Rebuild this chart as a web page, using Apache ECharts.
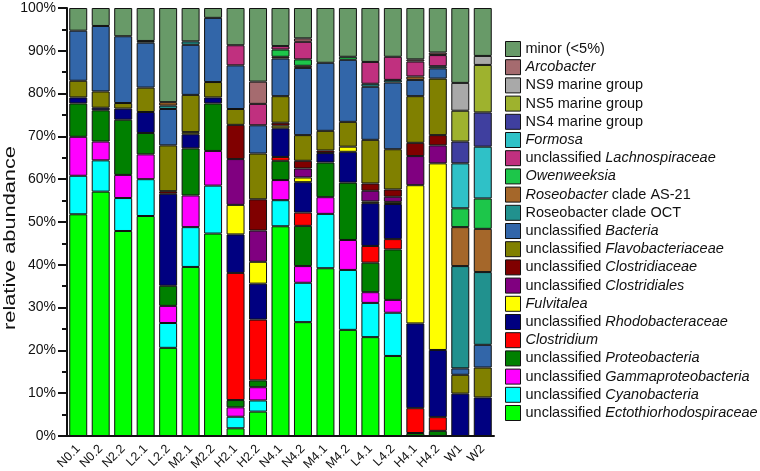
<!DOCTYPE html>
<html>
<head>
<meta charset="utf-8">
<script src="https://cdn.jsdelivr.net/npm/echarts@6/dist/echarts.min.js"></script>
<style>html,body{margin:0;padding:0;background:#fff;}#c{width:760px;height:471px;}</style>
</head>
<body>
<div id="c"></div>
<script>
const categories = ['N0.1','N0.2','N2.2','L2.1','L2.2','M2.1','M2.2','H2.1','H2.2','N4.1','N4.2','M4.1','M4.2','L4.1','L4.2','H4.1','H4.2','W1','W2'];
const yTicks = [0,10,20,30,40,50,60,70,80,90,100];

// series values (% relative abundance), bottom to top of stack
const ecto      = [51.8,57.1,47.9,51.4,20.6,39.5,47.3,1.8,5.7,49.0,26.6,39.2,24.8,23.1,18.7,0,0,0,0];
const cyano     = [9.0,7.3,7.7,8.6,5.8,9.3,11.2,2.7,2.6,6.1,9.2,12.7,14.0,8.0,10.1,0,0,0,0];
const gamma     = [9.1,4.4,5.4,5.8,4.0,7.4,8.1,2.2,3.1,4.7,3.9,3.9,7.0,2.5,3.0,0,0,0,0];
const proteo    = [7.8,7.3,12.9,5.0,4.7,11.0,11.1,1.7,1.6,4.5,9.4,8.1,13.4,6.9,11.8,0.7,1.2,0,0];
const clostrid  = [0,0,0,0,0,0,0,29.7,14.2,0.9,3.1,0,0,3.9,2.4,5.8,3.2,0,0];
const rhodo     = [1.4,0.6,2.6,4.9,21.5,3.3,1.4,9.0,8.4,6.7,7.1,2.2,7.2,10.0,8.2,19.8,15.7,9.9,9.0];
const fulv      = [0,0,0,0,0,0.5,0,6.9,5.1,0.6,1.1,0,1.2,0.4,0.5,32.3,43.6,0,0];
const cles      = [0,0,0,0,0,0,0,10.7,7.3,0,2.1,0,0,2.5,1.2,6.8,4.2,0,0];
const ccae      = [0,0,0,0,0.6,0,0,8.0,7.3,0.7,1.8,0.6,0,1.7,1.7,3.1,2.4,0,0];
const flavo     = [3.9,3.8,1.3,5.7,10.7,8.7,3.6,3.7,10.7,6.2,6.0,4.6,5.8,10.2,9.4,10.9,13.2,4.4,7.0];
const bact      = [11.7,15.3,15.6,10.5,8.5,11.7,15.0,10.2,6.6,8.8,15.7,15.9,14.5,12.4,15.6,3.8,2.4,1.5,5.3];
const oct       = [0,0,0,0.4,0.8,0.8,0,0,0,0,0,0,0,0.7,0.6,0,0.5,23.9,17.0];
const as21      = [0,0,0,0,0.8,0,0,0,0,0.4,0.5,0,0,0,0,0.8,0,9.1,10.1];
const owen      = [0,0,0,0,0,0,0,0,0,1.7,1.5,0,0.7,0,0,0,0,4.4,7.1];
const lachno    = [0,0,0,0,0,0,0,4.7,5.0,0.8,4.1,0,0,5.1,5.4,3.5,2.6,0,0];
const formosa   = [0,0,0,0,0,0,0,0,0,0,0,0,0,0,0,0,0,10.5,12.1];
const ns4       = [0,0,0,0,0,0,0,0,0,0,0,0,0,0,0,0,0,5.1,8.0];
const ns5       = [0,0,0,0,0,0,0,0,0,0,0,0,0,0,0,0,0,7.2,11.1];
const ns9       = [0,0,0,0,0,0,0,0,0,0,0,0,0,0,0,0,0,6.5,2.1];
const arco      = [0,0,0,0,0,0,0,0,5.2,0,0.8,0,0,0,0,0.5,0.6,0,0];
const minor     = [5.3,4.2,6.6,7.7,22.0,7.8,2.3,8.7,17.2,8.9,7.1,12.8,11.4,12.6,11.4,12.0,10.4,17.5,11.2];

const seriesDefs = [
  ['unclassified Ectothiorhodospiraceae', ecto, '#00ff00', 'unclassified {i|Ectothiorhodospiraceae}'],
  ['unclassified Cyanobacteria', cyano, '#00ffff', 'unclassified {i|Cyanobacteria}'],
  ['unclassified Gammaproteobacteria', gamma, '#ff00ff', 'unclassified {i|Gammaproteobacteria}'],
  ['unclassified Proteobacteria', proteo, '#008000', 'unclassified {i|Proteobacteria}'],
  ['Clostridium', clostrid, '#ff0000', '{i|Clostridium}'],
  ['unclassified Rhodobacteraceae', rhodo, '#000080', 'unclassified {i|Rhodobacteraceae}'],
  ['Fulvitalea', fulv, '#ffff00', '{i|Fulvitalea}'],
  ['unclassified Clostridiales', cles, '#800080', 'unclassified {i|Clostridiales}'],
  ['unclassified Clostridiaceae', ccae, '#800000', 'unclassified {i|Clostridiaceae}'],
  ['unclassified Flavobacteriaceae', flavo, '#808000', 'unclassified {i|Flavobacteriaceae}'],
  ['unclassified Bacteria', bact, '#3266a9', 'unclassified {i|Bacteria}'],
  ['Roseobacter clade OCT', oct, '#21918e', 'Roseobacter clade OCT'],
  ['Roseobacter clade AS-21', as21, '#a5672a', '{i|Roseobacter} clade AS-21'],
  ['Owenweeksia', owen, '#1dc64a', '{i|Owenweeksia}'],
  ['unclassified Lachnospiraceae', lachno, '#c0307f', 'unclassified {i|Lachnospiraceae}'],
  ['Formosa', formosa, '#2fc1c7', '{i|Formosa}'],
  ['NS4 marine group', ns4, '#3f3f9f', 'NS4 marine group'],
  ['NS5 marine group', ns5, '#9eb22e', 'NS5 marine group'],
  ['NS9 marine group', ns9, '#a9a9a9', 'NS9 marine group'],
  ['Arcobacter', arco, '#a56b6f', '{i|Arcobacter}'],
  ['minor (<5%)', minor, '#689a68', 'minor (<5%)']
];

const FONT = 'Liberation Sans, Arial, sans-serif';
const labelMap = {};
seriesDefs.forEach(d => { labelMap[d[0]] = d[3]; });

const chart = echarts.init(document.getElementById('c'), null, {renderer: 'canvas'});
chart.setOption({
  animation: false,
  backgroundColor: '#ffffff',
  textStyle: {fontFamily: FONT},
  grid: {left: 67, right: 266, top: 8, bottom: 35, containLabel: false, outerBoundsMode: 'none'},
  legend: {
    orient: 'vertical',
    left: 505,
    top: 41,
    padding: 0,
    itemWidth: 15,
    itemHeight: 15,
    itemGap: 2.2,
    icon: 'rect',
    data: seriesDefs.map(d => d[0]).reverse(),
    itemStyle: {borderColor: '#111', borderWidth: 1},
    formatter: name => labelMap[name],
    textStyle: {
      fontFamily: FONT, fontSize: 14.5, color: '#111', lineHeight: 15,
      rich: {i: {fontStyle: 'italic', fontFamily: FONT, fontSize: 14.5, color: '#111', lineHeight: 15}}
    }
  },
  xAxis: {
    type: 'category',
    data: categories,
    axisLine: {show: true, lineStyle: {color: '#111', width: 2}},
    axisTick: {show: false},
    axisLabel: {rotate: 45, fontSize: 12.5, color: '#111', margin: 11, interval: 0, fontFamily: FONT}
  },
  yAxis: {
    type: 'value',
    min: yTicks[0],
    max: yTicks[yTicks.length - 1],
    interval: 10,
    axisLine: {show: true, lineStyle: {color: '#111', width: 2}},
    axisTick: {show: true, length: 9, lineStyle: {color: '#111', width: 2}},
    minorTick: {show: true, splitNumber: 2, length: 5, lineStyle: {color: '#111', width: 2}},
    splitLine: {show: false},
    axisLabel: {formatter: '{value}%', fontSize: 14, color: '#111', margin: 11, fontFamily: FONT}
  },
  graphic: [{
    type: 'text',
    x: 11, y: 238,
    rotation: Math.PI / 2,
    scaleX: 1.36,
    style: {
      text: 'relative abundance',
      fontSize: 16,
      fontFamily: FONT,
      fill: '#111',
      align: 'center', verticalAlign: 'middle',
      textAlign: 'center', textVerticalAlign: 'middle'
    }
  }],
  series: seriesDefs.map(d => ({
    name: d[0],
    type: 'bar',
    stack: 'total',
    barCategoryGap: '20%',
    data: d[1].map(v => (v === 0 ? null : v)),
    itemStyle: {color: d[2], borderColor: '#111', borderWidth: 1},
    emphasis: {disabled: true}
  }))
});
</script>
</body>
</html>
